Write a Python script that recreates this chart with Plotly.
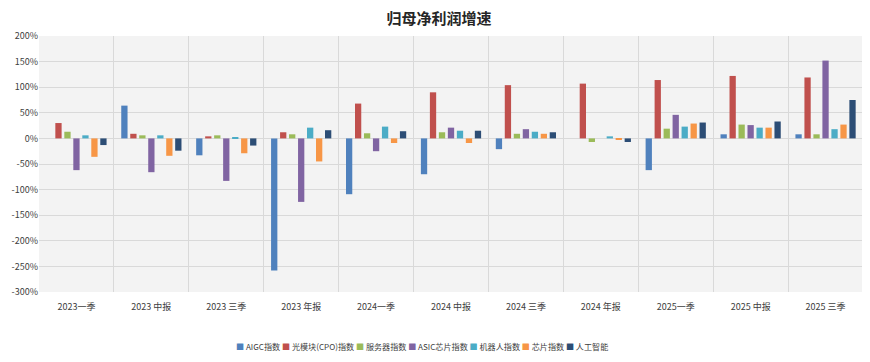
import plotly.graph_objects as go

categories = ["2023一季", "2023 中报", "2023 三季", "2023 年报", "2024一季", "2024 中报",
              "2024 三季", "2024 年报", "2025一季", "2025 中报", "2025 三季"]

aigc   = [None, 64, -33, -258, -109, -70, -21, None, -62, 8, 8]
cpo    = [30, 9, 4, 12, 68, 90, 104, 107, 114, 122, 119]
server = [13, 6, 6, 8, 10, 12, 9, -7, 19, 27, 8]
asic   = [-62, -66, -83, -124, -25, 21, 18, None, 46, 26, 152]
robot  = [6, 6, 1, 21, 23, 15, 13, 4, 23, 21, 18]
chip   = [-36, -34, -29, -45, -9, -9, 9, -3, 29, 21, 27]
ai     = [-13, -24, -14, 16, 14, 15, 12, -7, 31, 33, 75]

series_names = ["AIGC指数", "光模块(CPO)指数", "服务器指数", "ASIC芯片指数", "机器人指数", "芯片指数", "人工智能"]
series_vals = [aigc, cpo, server, asic, robot, chip, ai]
colors = ["#4F81BD", "#C0504D", "#9BBB59", "#8064A2", "#4BACC6", "#F79646", "#2C4D75"]

yticks = list(range(-300, 201, 50))
ytext = [f"{v}%" for v in yticks]

FONT = "Noto Sans CJK SC"

fig = go.Figure()
for name, vals, c in zip(series_names, series_vals, colors):
    fig.add_trace(go.Bar(x=categories, y=vals, name=name, marker_color=c,
                         marker_line_width=0, showlegend=False))

legend_text = " ".join(
    f"<span style='color:{c}'>■</span> {n}" for n, c in zip(series_names, colors)
)
fig.add_annotation(text=legend_text, xref="paper", yref="paper", x=0.465, y=-0.214,
                   xanchor="center", yanchor="middle", showarrow=False,
                   font=dict(family=FONT, size=8.1, color="#404040"))

fig.update_layout(
    width=862, height=354,
    margin=dict(l=31, r=7, t=28, b=70, autoexpand=False),
    paper_bgcolor="white",
    plot_bgcolor="#F3F3F3",
    font=dict(family=FONT, size=9, color="#404040"),
    title=dict(text="<b>归母净利润增速</b>", x=0.5, xanchor="center", y=0.985, yanchor="top",
               font=dict(family=FONT, size=15, color="#262626")),
    barmode="group",
    bargap=0.16,
    bargroupgap=0.3,
    showlegend=False,
    xaxis=dict(type="category", tickson="boundaries", showgrid=True, gridcolor="#D9D9D9",
               gridwidth=1, ticks="", showline=False, tickfont=dict(size=9, color="#404040"),
               ticklabelstandoff=8, automargin=False),
    yaxis=dict(range=[-300, 200], tickvals=yticks, ticktext=ytext, showgrid=True,
               gridcolor="#D9D9D9", gridwidth=1, zeroline=False, showline=False,
               tickfont=dict(size=9, color="#404040"), automargin=False),
)

fig.write_html("out.html")
